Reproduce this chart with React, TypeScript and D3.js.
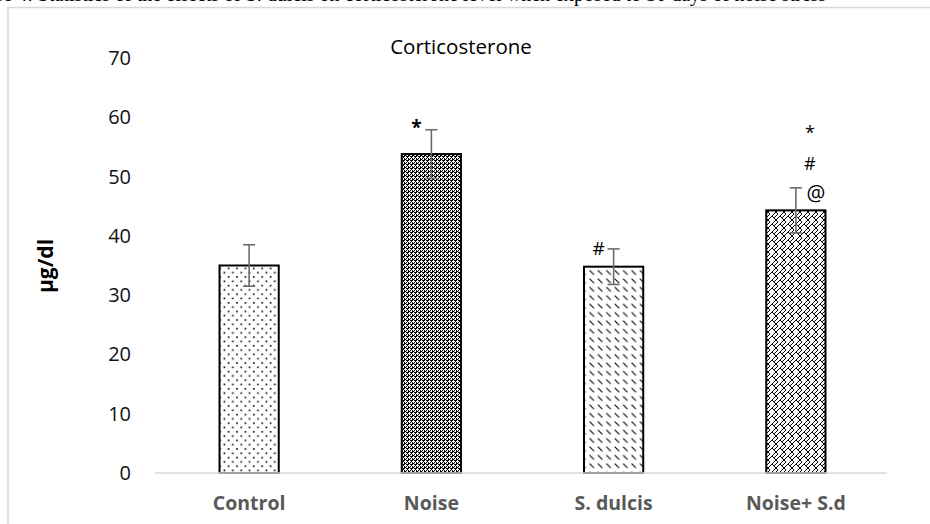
import React from "react";
import * as d3 from "d3";

const categories = ["Control", "Noise", "S. dulcis", "Noise+ S.d"];
const means = [35, 53.8, 34.8, 44.3];
const errors = [3.5, 4.1, 3, 3.8];
const marks = [[], ["*"], ["#"], ["*", "#", "@"]];
const yTicks = [0, 10, 20, 30, 40, 50, 60, 70];
const patternIds = ["pDots", "pCheck", "pDash", "pWeave"];

const W = 930, H = 524;
const font = "'Open Sans', 'Noto Sans', sans-serif";

export default function App() {
  const x = d3.scaleBand<string>().domain(categories).range([158, 887])
    .paddingInner(0.675).paddingOuter(0.3375);
  const y = d3.scaleLinear().domain([0, 70]).range([473, 58]);
  const bw = x.bandwidth();

  return (
    <svg width={W} height={H} style={{ position: "absolute", left: 0, top: 0, background: "#fff" }}>
      <defs>
        <pattern id="pDots" width={8.4} height={8.6} patternUnits="userSpaceOnUse">
          <rect x={1} y={1} width={1.6} height={1.6} fill="#000" />
          <rect x={5.2} y={5.3} width={1.6} height={1.6} fill="#000" />
        </pattern>
        <pattern id="pCheck" width={4} height={4} patternUnits="userSpaceOnUse">
          <rect width={4} height={4} fill="#000" />
          <rect x={1} y={0} width={1} height={1} fill="#fff" />
          <rect x={0} y={1} width={3} height={1} fill="#fff" />
          <rect x={1} y={2} width={1} height={1} fill="#fff" />
          <rect x={3} y={2} width={1} height={2} fill="#fff" />
          <rect x={2} y={3} width={1} height={1} fill="#bbb" />
        </pattern>
        <pattern id="pDash" width={8.4} height={8.4} patternUnits="userSpaceOnUse">
          <path d="M1.5,1.5 L6,6" stroke="#000" strokeWidth={1.1} />
        </pattern>
        <pattern id="pWeave" width={8} height={8} patternUnits="userSpaceOnUse">
          <path d="M0,4 L4,0 M4,8 L8,4 M4,0 L8,4 M0,4 L2,6 M6,2 L8,0" stroke="#000" strokeWidth={1} fill="none" />
          <path d="M0,8 L2,6" stroke="#000" strokeWidth={1} fill="none" />
        </pattern>
      </defs>

      {/* caption line cut off at the top */}
      <text x={-40} y={1} fontFamily="'Liberation Serif', serif" fontSize={20} fill="#000">
        Figure 4: Statistics of the effects of S. dulcis on corticosterone level when exposed to 30 days of noise stress
      </text>

      {/* chart frame */}
      <path d={`M8,${H} L8,7.5 L${W},7.5`} fill="none" stroke="#d9d9d9" strokeWidth={1.5} />

      <text x={461} y={54} textAnchor="middle" fontFamily={font} fontSize={20.5} fill="#000">
        Corticosterone
      </text>

      {/* y axis tick labels */}
      {yTicks.map(t => (
        <text key={t} x={131} y={y(t)} dy="0.35em" textAnchor="end" fontFamily={font} fontSize={20} fill="#111">
          {t}
        </text>
      ))}

      <text transform={`translate(53,266) rotate(-90)`} textAnchor="middle" fontFamily={font}
        fontSize={21} fontWeight="bold" fill="#000">
        µg/dl
      </text>

      {/* bars */}
      {categories.map((c, i) => (
        <rect key={c} x={x(c)} y={y(means[i])} width={bw} height={y(0) - y(means[i])}
          fill={`url(#${patternIds[i]})`} stroke="#000" strokeWidth={2} />
      ))}

      {/* x axis line */}
      <line x1={155} x2={887} y1={y(0)} y2={y(0)} stroke="#d9d9d9" strokeWidth={1.5} />

      {/* error bars */}
      {categories.map((c, i) => {
        const cx = (x(c) as number) + bw / 2;
        const top = y(means[i] + errors[i]);
        const bot = y(means[i] - errors[i]);
        return (
          <g key={c} stroke="#6b6b6b" strokeWidth={1.6}>
            <line x1={cx} x2={cx} y1={top} y2={bot} />
            <line x1={cx - 6} x2={cx + 6} y1={top} y2={top} />
            <line x1={cx - 6} x2={cx + 6} y1={bot} y2={bot} />
          </g>
        );
      })}

      {/* significance marks */}
      {categories.map((c, i) => {
        const cx = (x(c) as number) + bw / 2;
        const list = marks[i];
        if (!list.length) return null;
        if (list.length === 1) {
          const star = list[0] === "*";
          const top = y(means[i] + errors[i]);
          return (
            <text key={c} x={cx - 15} y={top + (star ? 4 : 6)} textAnchor="middle" fontFamily={font}
              fontSize={19} fontWeight={star ? "bold" : "normal"} fill="#000">
              {list[0]}
            </text>
          );
        }
        return list.map((m, k) => (
          <text key={c + m} x={cx + 14 + (m === "@" ? 6 : 0)} y={139 + k * 31} textAnchor="middle"
            fontFamily={font} fontSize={m === "@" ? 21 : 18} fill="#000">
            {m}
          </text>
        ));
      })}

      {/* category labels */}
      {categories.map(c => (
        <text key={c} x={(x(c) as number) + bw / 2} y={510} textAnchor="middle" fontFamily={font}
          fontSize={19.5} fontWeight="bold" fill="#595959">
          {c}
        </text>
      ))}
    </svg>
  );
}
